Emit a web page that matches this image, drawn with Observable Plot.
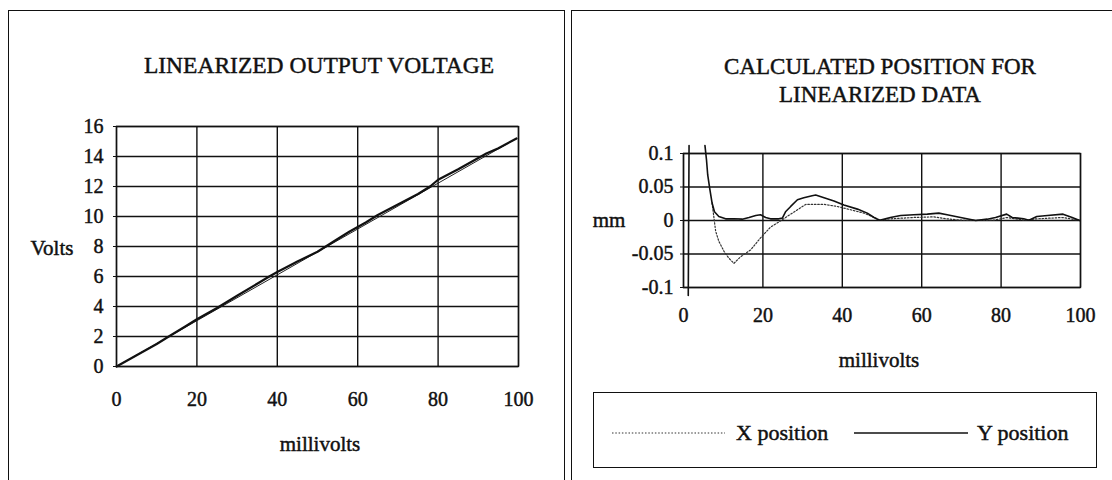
<!DOCTYPE html>
<html>
<head>
<meta charset="utf-8">
<script src="https://cdn.jsdelivr.net/npm/d3@7"></script>
<script src="https://cdn.jsdelivr.net/npm/@observablehq/plot@0.6"></script>
<style>
  body { margin: 0; background: #fff; }
  #wrap { position: relative; width: 1112px; height: 480px; overflow: hidden; background: #fff;
          font-family: "Liberation Serif", "Times New Roman", serif; color: #111; }
  .abs { position: absolute; white-space: nowrap; -webkit-text-stroke: 0.45px #111; }
  .c { transform: translate(-50%, -50%); text-align: center; }
  .panel { position: absolute; box-sizing: border-box; }
  svg.plot { position: absolute; top: 0; overflow: visible; }
  svg.plot text { stroke: #111; stroke-width: 0.45px; }
</style>
</head>
<body>
<div id="wrap">
  <div class="panel" style="left:8px;top:10px;width:557px;height:480px;border-left:1.5px solid #111;border-top:1.5px solid #111;border-right:1.5px solid #111;"></div>
  <div class="panel" style="left:571px;top:10px;width:560px;height:480px;border-left:1.5px solid #111;border-top:1.5px solid #111;"></div>

  <div class="abs c" style="left:319px;top:65px;font-size:23.5px;">LINEARIZED OUTPUT VOLTAGE</div>
  <div class="abs c" style="left:52px;top:248px;font-size:21px;">Volts</div>
  <div class="abs c" style="left:320px;top:444px;font-size:21px;">millivolts</div>

  <div class="abs c" style="left:880px;top:81px;font-size:23px;line-height:28px;">CALCULATED POSITION FOR<br>LINEARIZED DATA</div>
  <div class="abs c" style="left:609px;top:220px;font-size:21px;">mm</div>
  <div class="abs c" style="left:879px;top:360px;font-size:21px;">millivolts</div>

  <div class="abs" style="left:593px;top:392px;width:504px;height:76px;box-sizing:border-box;border:1.5px solid #111;"></div>
  <svg class="abs" style="left:0;top:0;" width="1112" height="480">
    <line x1="612" x2="725" y1="433" y2="433" stroke="#333" stroke-width="1.2" stroke-dasharray="1.5,1.8"></line>
    <line x1="854" x2="968" y1="433" y2="433" stroke="#111" stroke-width="1.5"></line>
  </svg>
  <div class="abs" style="left:736px;top:420px;font-size:22px;line-height:26px;">X position</div>
  <div class="abs" style="left:977px;top:420px;font-size:22px;line-height:26px;">Y position</div>
</div>

<script>
// ---- Left chart: linearized output voltage ----
const leftTicksX = [0, 20, 40, 60, 80, 100];
const leftTicksY = [0, 2, 4, 6, 8, 10, 12, 14, 16];

const measuredMv    = [0, 5, 10, 13, 17, 20, 25, 30, 35, 38, 40, 45, 50, 55, 58, 62, 65, 70, 75, 78, 80, 85, 90, 92, 95, 99.5];
const measuredVolts = [0, 0.75, 1.5, 2.0, 2.65, 3.15, 3.9, 4.72, 5.52, 6.0, 6.3, 7.0, 7.65, 8.5, 9.0, 9.6, 10.1, 10.8, 11.5, 12.0, 12.45, 13.15, 13.9, 14.2, 14.55, 15.2];

const fitMv    = [0, 99.5];
const fitVolts = [0, 15.2];

// ---- Right chart: calculated position ----
const rightTicksX = [0, 20, 40, 60, 80, 100];
const rightTicksY = [-0.1, -0.05, 0, 0.05, 0.1];
const rightTickLabels = ["-0.1", "-0.05", "0", "0.05", "0.1"];

const yPosMv = [1.2, 1.4, 3.0, 5.4, 5.8, 6.1, 6.6, 7.2, 7.8, 8.9, 10.6, 12.7, 14.8, 16.5, 18.2, 19.4, 20.7, 21.9, 24.0, 24.9, 25.7, 27.0, 28.7, 30.3, 32.4, 33.3, 35.4, 37.9, 40.4, 43.8, 46.3, 48.0, 49.4, 52.1, 54.7, 58.0, 61.4, 64.3, 66.4, 69.8, 73.6, 76.5, 78.6, 81.4, 82.8, 85.7, 87.0, 89.0, 91.7, 95.6, 97.9, 99.8];
const yPosMm = [-0.112, 0.112, NaN, 0.112, 0.09, 0.068, 0.048, 0.026, 0.013, 0.006, 0.0025, 0.0025, 0.002, 0.0045, 0.0075, 0.0085, 0.0045, 0.0025, 0.0025, 0.0035, 0.013, 0.021, 0.031, 0.034, 0.037, 0.038, 0.034, 0.029, 0.023, 0.017, 0.011, 0.0045, 0.0005, 0.0045, 0.0075, 0.0085, 0.0095, 0.011, 0.0085, 0.0045, 0, 0.002, 0.0045, 0.0095, 0.0045, 0.0025, 0.0005, 0.006, 0.0075, 0.0095, 0.0045, 0];

const xPosMv = [7.2, 8.1, 8.9, 10.2, 11.4, 12.7, 14.4, 16.9, 19.4, 21.9, 24.5, 26.1, 28.7, 30.8, 32.9, 35.4, 38.7, 42.1, 45.5, 48.0, 49.4, 52.1, 58.0, 63.0, 66.4, 69.8, 73.6, 78.2, 81.5, 85.7, 89.0, 95.6, 99.8];
const xPosMm = [0.026, -0.016, -0.031, -0.046, -0.056, -0.064, -0.054, -0.044, -0.026, -0.010, -0.0005, 0.006, 0.016, 0.024, 0.024, 0.024, 0.021, 0.016, 0.011, 0.0045, 0.0005, 0.0025, 0.0045, 0.0055, 0.0025, 0.0005, 0, 0.0005, 0.0045, 0.0005, 0.0025, 0.0045, 0];

const baseStyle = {
  fontFamily: '"Liberation Serif", "Times New Roman", serif',
  fontSize: "20px",
  color: "#111",
  background: "transparent",
  overflow: "visible"
};

const measured = measuredMv.map((x, i) => ({x, y: measuredVolts[i]}));
const fit = fitMv.map((x, i) => ({x, y: fitVolts[i]}));

const left = Plot.plot({
  width: 564, height: 480,
  marginLeft: 116, marginRight: 46, marginTop: 126, marginBottom: 114,
  style: baseStyle,
  x: {domain: [0, 100], label: null},
  y: {domain: [0, 16], label: null},
  marks: [
    Plot.gridX(leftTicksX, {stroke: "#111", strokeOpacity: 1, strokeWidth: 1.4}),
    Plot.gridY(leftTicksY, {stroke: "#111", strokeOpacity: 1, strokeWidth: 1.4}),
    Plot.frame({stroke: "#111", strokeWidth: 1.4}),
    Plot.axisX(leftTicksX, {tickSize: 0, tickPadding: 25, label: null, fontSize: 20}),
    Plot.axisY(leftTicksY, {tickSize: 3, tickPadding: 10, label: null, fontSize: 20, stroke: "#111"}),
    Plot.line(fit, {x: "x", y: "y", stroke: "#222", strokeWidth: 1}),
    Plot.line(measured, {x: "x", y: "y", stroke: "#111", strokeWidth: 2.2, curve: "linear"})
  ]
});
left.classList.add("plot");
left.style.position = "absolute";
left.style.left = "0px";
left.style.top = "0px";
document.getElementById("wrap").appendChild(left);

const yPos = yPosMv.map((x, i) => ({x, y: yPosMm[i]}));
const xPos = xPosMv.map((x, i) => ({x, y: xPosMm[i]}));

const right = Plot.plot({
  width: 540, height: 480,
  marginLeft: 111, marginRight: 32, marginTop: 153, marginBottom: 193,
  style: baseStyle,
  x: {domain: [0, 100], label: null},
  y: {domain: [-0.1, 0.1], label: null},
  marks: [
    Plot.gridX(rightTicksX, {stroke: "#111", strokeOpacity: 1, strokeWidth: 1.4}),
    Plot.gridY(rightTicksY, {stroke: "#111", strokeOpacity: 1, strokeWidth: 1.4}),
    Plot.frame({stroke: "#111", strokeWidth: 1.4}),
    Plot.axisX(rightTicksX, {tickSize: 0, tickPadding: 20, label: null, fontSize: 20}),
    Plot.axisY(rightTicksY, {tickSize: 3, tickPadding: 7, label: null, fontSize: 20, stroke: "#111",
      tickFormat: d => rightTickLabels[rightTicksY.indexOf(d)]}),
    Plot.line(xPos, {x: "x", y: "y", stroke: "#333", strokeWidth: 1.2, strokeDasharray: "1.5,1.8"}),
    Plot.line(yPos, {x: "x", y: "y", stroke: "#111", strokeWidth: 1.6})
  ]
});
right.classList.add("plot");
right.style.position = "absolute";
right.style.left = "572px";
right.style.top = "0px";
document.getElementById("wrap").appendChild(right);
</script>
</body>
</html>
